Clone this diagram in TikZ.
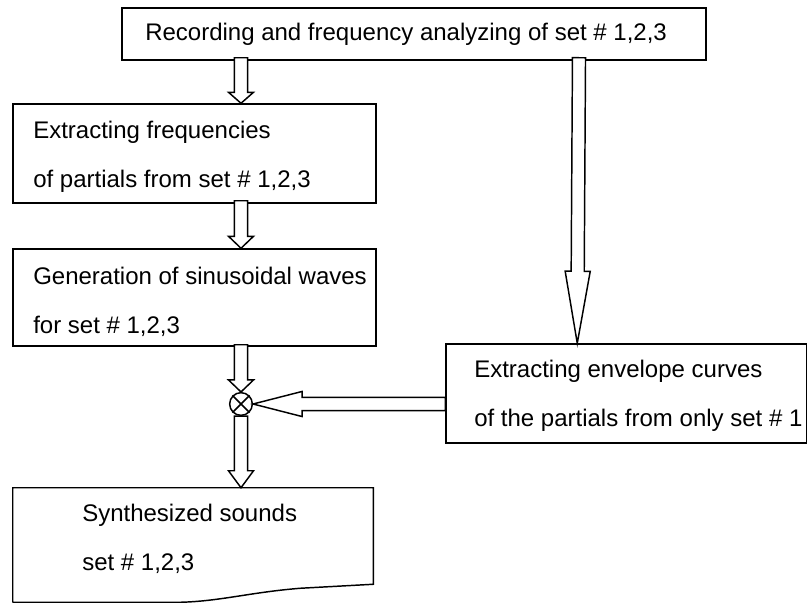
\documentclass[tikz,border=0pt]{standalone}
\usepackage{fontspec}
\setmainfont{Liberation Sans}
\usetikzlibrary{calc,fit}
\tikzset{
    box/.style={draw, line width=1.1pt, inner sep=0pt},
    txt/.style={anchor=west, align=left, inner sep=0pt, font=\fontsize{18pt}{37pt}\selectfont},
    hollow/.style={draw, fill=white, line width=1.1pt}
}
\newcommand{\arrshaft}{4.9pt}
\newcommand{\arrhead}{9.4pt}
% hollow block arrow: start, tip, head length
\newcommand{\blockarrow}[3]{%
    \coordinate (hb) at ($(#2)!#3!(#1)$);
    \draw[hollow] ($(#1)!\arrshaft!90:(#2)$) -- ($(hb)!\arrshaft!90:(#2)$)
        -- ($(hb)!\arrhead!90:(#2)$) -- (#2) -- ($(hb)!\arrhead!-90:(#2)$)
        -- ($(hb)!\arrshaft!-90:(#2)$) -- ($(#1)!\arrshaft!-90:(#2)$) -- cycle;
}

\begin{document}
\begin{tikzpicture}[x=0.75pt, y=-0.75pt]
    \useasboundingbox[fill=white] (0,0) rectangle (808,603);

    % Boxes
    \node[box, fit={(122,8) (706,60)}] (top) {};
    \node[box, fit={(13,104) (376,203)}] (freq) {};
    \node[box, fit={(13,249) (376,346)}] (gen) {};
    \node[box, fit={(446,344) (806.5,443)}] (env) {};
    \node[inner sep=0pt, fit={(13,488) (373,602)}] (doc) {};

    % Document shape
    \draw[line width=1.1pt] (doc.south west) -- (doc.north west) -- (doc.north east)
        -- ($(doc.south east)+(0,-18)$) -- ($(doc.south east)+(-73,-14)$)
        .. controls ($(doc.south east)+(-123,-10)$) and ($(doc.south east)+(-153,-1)$) .. ($(doc.south east)+(-193,0)$)
        -- (doc.south west);

    % Texts
    \node[txt] (toptxt) at (145,34) {Recording and frequency analyzing of set \# 1,2,3};
    \node[txt] (freqtxt) at (33,157) {Extracting frequencies\\of partials from set \# 1,2,3};
    \node[txt] (gentxt) at (33,302) {Generation of sinusoidal waves\\for set \# 1,2,3};
    \node[txt] (envtxt) at (474,396) {Extracting envelope curves\\of the partials from only set \# 1};
    \node[txt] (doctxt) at (82,539) {Synthesized sounds\\set \# 1,2,3};

    % Multiplier
    \node[circle, draw, line width=1.1pt, minimum size=17pt, inner sep=0pt] (ot) at (241,404) {};
    \draw[line width=1.1pt] (ot.north west) -- (ot.south east) (ot.north east) -- (ot.south west);

    % Arrow ends
    \coordinate (a1s) at ($(top.south -| ot)+(0,-3)$);
    \coordinate (a1e) at (freq.north -| ot);
    \coordinate (a2s) at ($(freq.south -| ot)+(0,-3)$);
    \coordinate (a2e) at (gen.north -| ot);
    \coordinate (a3s) at ($(gen.south -| ot)+(0,-2)$);
    \coordinate (a4e) at (doc.north -| ot);
    \coordinate (a5s) at ($(top.south)+(165,-3)$);
    \coordinate (a5e) at ($(env.north west)+(132,0)$);
    \coordinate (a6s) at (ot.east -| env.west);

    % Arrows
    \blockarrow{a1s}{a1e}{8.25pt}
    \blockarrow{a2s}{a2e}{9pt}
    \blockarrow{a3s}{ot.north}{9pt}
    \blockarrow{ot.south}{a4e}{12.75pt}
    \blockarrow{a5s}{a5e}{54pt}
    \blockarrow{a6s}{ot.east}{36.75pt}
\end{tikzpicture}
\end{document}
